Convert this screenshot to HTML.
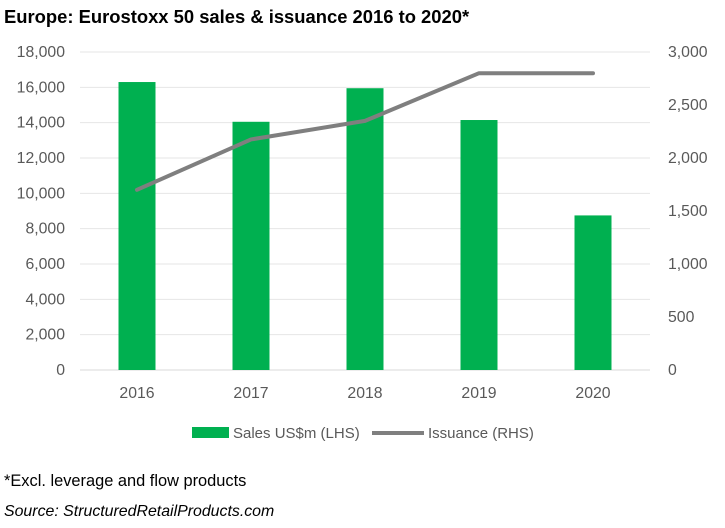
<!DOCTYPE html>
<html><head><meta charset="utf-8"><style>
body{margin:0;background:#fff;width:725px;height:523px;overflow:hidden;font-family:"Liberation Sans",Calibri,sans-serif}
svg text{font-family:"Liberation Sans",sans-serif}
</style></head><body>
<svg width="725" height="523">
<text x="4" y="23" font-size="18.4" font-weight="bold" fill="#000">Europe: Eurostoxx 50 sales &amp; issuance 2016 to 2020*</text>
<g id="grid"></g><g id="bars"></g><g id="line"></g><g id="axes"></g>
<g>
<rect x="192" y="427" width="37" height="11" fill="#00b050"/>
<text x="233" y="438" font-size="15" fill="#595959">Sales US$m (LHS)</text>
<line x1="372" y1="433" x2="424" y2="433" stroke="#7f7f7f" stroke-width="4"/>
<text x="428" y="438" font-size="15" fill="#595959">Issuance (RHS)</text>
</g>
<text x="4" y="486" font-size="16.4" fill="#000">*Excl. leverage and flow products</text>
<text x="4" y="516" font-size="15.9" font-style="italic" fill="#000">Source: StructuredRetailProducts.com</text>
</svg>
<script>
const categories=["2016","2017","2018","2019","2020"];
const sales=[16300,14050,15950,14150,8750];
const issuance=[1700,2175,2350,2800,2800];
const leftTicks=[0,2000,4000,6000,8000,10000,12000,14000,16000,18000];
const rightTicks=[0,500,1000,1500,2000,2500,3000];
const NS="http://www.w3.org/2000/svg";
const x0=80,x1=650,yB=370,yT=52;
const yL=v=>yB-(v/18000)*(yB-yT);
const yR=v=>yB-(v/3000)*(yB-yT);
const bw=(x1-x0)/categories.length;
const xc=i=>x0+bw*(i+0.5);
function mk(t,a,p){const e=document.createElementNS(NS,t);for(const k in a)e.setAttribute(k,a[k]);document.getElementById(p).appendChild(e);return e;}
const fmt=v=>v.toLocaleString('en-US');
leftTicks.forEach(v=>{
 const l=mk('line',{x1:x0,x2:x1,y1:yL(v),y2:yL(v),stroke:v===0?'#d9d9d9':'#e6e6e6','stroke-width':1},'grid');
 
 
 const t=mk('text',{x:65,y:yL(v)+5,'text-anchor':'end','font-size':15.8,fill:'#595959'},'axes');
 t.textContent=fmt(v);
 
 
});
rightTicks.forEach(v=>{
 const t=mk('text',{x:668,y:yR(v)+5,'font-size':15.8,fill:'#595959'},'axes');
 t.textContent=fmt(v);
 
 
});
categories.forEach((c,i)=>{
 const r=mk('rect',{x:xc(i)-18.5,y:yL(sales[i]),width:37,height:yB-yL(sales[i]),fill:'#00b050'},'bars');
 
 
 const t=mk('text',{x:xc(i),y:398,'text-anchor':'middle','font-size':15.8,fill:'#595959'},'axes');
 t.textContent=c;
 
 
});
const p=mk('polyline',{points:issuance.map((v,i)=>xc(i)+','+yR(v)).join(' '),fill:'none',stroke:'#7f7f7f','stroke-width':4,'stroke-linejoin':'round','stroke-linecap':'round'},'line');


</script>
</body></html>
